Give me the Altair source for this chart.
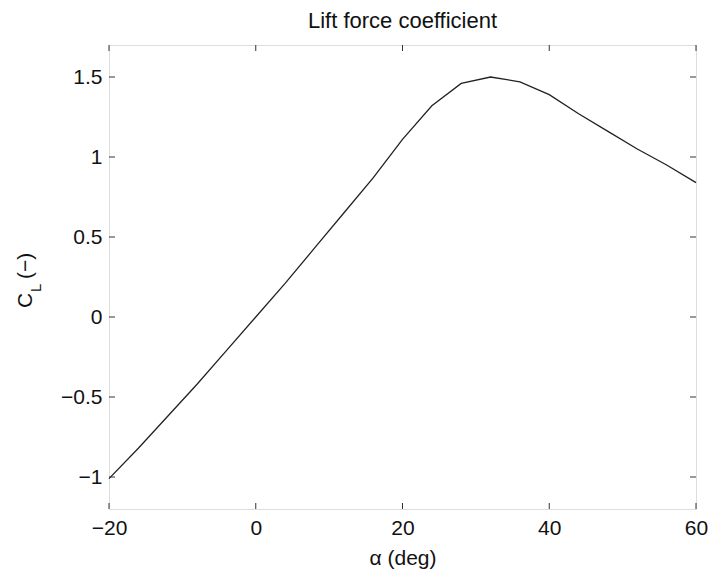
import altair as alt
import pandas as pd

alpha_deg = [-20, -16, -12, -8, -4, 0, 4, 8, 12, 16, 20, 24, 28, 32, 36, 40, 44, 48, 52, 56, 60]
cl_values = [-1.01, -0.82, -0.62, -0.42, -0.21, 0.0, 0.21, 0.43, 0.65, 0.87, 1.11, 1.32, 1.46, 1.50, 1.47, 1.39, 1.27, 1.16, 1.05, 0.95, 0.84]
x_ticks = [-20, 0, 20, 40, 60]
y_ticks = [-1, -0.5, 0, 0.5, 1, 1.5]
title_text = "Lift force coefficient"
x_title = "α (deg)"
y_title_main = "C"
y_title_sub = "L"
y_title_unit = "(−)"

W, H = 587, 464
FONT = "Liberation Sans"
FS = 21
TXT = "#111111"

df = pd.DataFrame({"alpha": alpha_deg, "cl": cl_values})
xt = pd.DataFrame({"t": x_ticks})
yt = pd.DataFrame({"t": y_ticks})

xscale = alt.Scale(domain=[-20, 60], nice=False, zero=False)
yscale = alt.Scale(domain=[-1.2, 1.7], nice=False, zero=False)

line = alt.Chart(df).mark_line(color="#222222", strokeWidth=1.3).encode(
    x=alt.X("alpha:Q", scale=xscale,
            axis=alt.Axis(title=x_title, values=x_ticks, format="~g", grid=False,
                          ticks=False, domain=False, labelPadding=8, titlePadding=9,
                          labelFlush=False, labelOverlap=False,
                          labelFont=FONT, labelFontSize=FS, titleFont=FONT,
                          titleFontSize=FS, titleFontWeight="normal",
                          labelColor=TXT, titleColor=TXT)),
    y=alt.Y("cl:Q", scale=yscale,
            axis=alt.Axis(title=None, values=y_ticks, format="~g", grid=False,
                          ticks=False, domain=False, labelPadding=7,
                          labelFlush=False, labelOverlap=False,
                          labelFont=FONT, labelFontSize=FS,
                          labelColor=TXT)),
)

tick_color = "#333333"
xb = alt.Chart(xt).mark_rule(color=tick_color, strokeWidth=1).encode(
    x=alt.X("t:Q", scale=xscale), y=alt.value(H), y2=alt.value(H - 6))
xtop = alt.Chart(xt).mark_rule(color=tick_color, strokeWidth=1).encode(
    x=alt.X("t:Q", scale=xscale), y=alt.value(0), y2=alt.value(6))
yl = alt.Chart(yt).mark_rule(color=tick_color, strokeWidth=1).encode(
    y=alt.Y("t:Q", scale=yscale), x=alt.value(0), x2=alt.value(6))
yr = alt.Chart(yt).mark_rule(color=tick_color, strokeWidth=1).encode(
    y=alt.Y("t:Q", scale=yscale), x=alt.value(W), x2=alt.value(W - 6))

# y-axis title "C_L (−)" with a real subscript, rotated
ytitle_c = alt.Chart(pd.DataFrame({"s": [y_title_main]})).mark_text(
    angle=270, align="left", baseline="alphabetic", font=FONT, fontSize=FS, color=TXT
).encode(text="s:N", x=alt.value(-77), y=alt.value(263))
ytitle_l = alt.Chart(pd.DataFrame({"s": [y_title_sub]})).mark_text(
    angle=270, align="left", baseline="alphabetic", font=FONT, fontSize=15, color=TXT
).encode(text="s:N", x=alt.value(-68), y=alt.value(247))
ytitle_u = alt.Chart(pd.DataFrame({"s": [y_title_unit]})).mark_text(
    angle=270, align="left", baseline="alphabetic", font=FONT, fontSize=FS, color=TXT
).encode(text="s:N", x=alt.value(-77), y=alt.value(234))

chart = alt.layer(line, xb, xtop, yl, yr, ytitle_c, ytitle_l, ytitle_u).properties(
    width=W, height=H,
    title=alt.Title(title_text, font=FONT, fontSize=22,
                    fontWeight="normal", color=TXT, offset=12),
    autosize=alt.AutoSizeParams(type="none"),
    padding={"left": 109, "top": 45, "right": 15, "bottom": 60},
).configure_view(stroke="#333333", strokeWidth=1.3).configure(background="white")

chart.save("out.html", embed_options={"renderer": "svg", "actions": False})
